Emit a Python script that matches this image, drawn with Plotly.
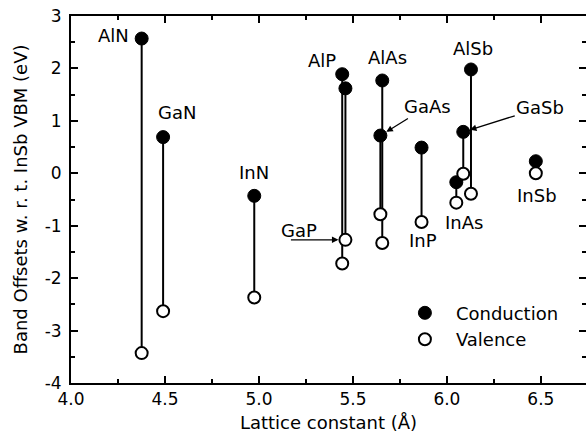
import plotly.graph_objects as go

# Band offsets of III-V semiconductors relative to the InSb valence band maximum
materials = ["AlN", "GaN", "InN", "AlP", "GaP", "AlAs", "GaAs", "InP", "InAs", "GaSb", "AlSb", "InSb"]
lattice = [4.376, 4.49, 4.975, 5.443, 5.46, 5.656, 5.646, 5.865, 6.05, 6.087, 6.128, 6.473]
conduction = [2.57, 0.69, -0.43, 1.89, 1.62, 1.77, 0.72, 0.49, -0.17, 0.79, 1.98, 0.23]
valence = [-3.43, -2.63, -2.37, -1.72, -1.27, -1.33, -0.78, -0.93, -0.56, -0.01, -0.39, 0.0]

x_ticks = [4.0, 4.5, 5.0, 5.5, 6.0, 6.5]
y_ticks = [-4, -3, -2, -1, 0, 1, 2, 3]

FONT = "DejaVu Sans, Liberation Sans, Arial, sans-serif"

# vertical bars joining conduction and valence levels
lx, ly = [], []
for x, c, v in zip(lattice, conduction, valence):
    lx += [x, x, None]
    ly += [c, v, None]

fig = go.Figure()
fig.add_trace(go.Scatter(x=lx, y=ly, mode="lines", line=dict(color="black", width=2),
                         showlegend=False, hoverinfo="skip"))
fig.add_trace(go.Scatter(x=lattice, y=conduction, mode="markers", name="Conduction",
                         marker=dict(symbol="circle", size=13, color="black",
                                     line=dict(color="black", width=1))))
fig.add_trace(go.Scatter(x=lattice, y=valence, mode="markers", name="Valence",
                         marker=dict(symbol="circle", size=12, color="white",
                                     line=dict(color="black", width=2))))

# text labels: (anchor level, dx px, dy px)
label_pos = {
    "AlN": ("c", -28, -3),
    "GaN": ("c", 14, -25),
    "InN": ("c", 0, -23),
    "AlP": ("c", -20, -14),
    "AlAs": ("c", 5, -23),
    "AlSb": ("c", 2, -21),
    "InSb": ("v", 1, 22),
    "InAs": ("v", 8, 20),
    "InP": ("v", 1, 18),
    "GaP": ("v", -46, -9),
}
for name, (lvl, dx, dy) in label_pos.items():
    i = materials.index(name)
    yv = conduction[i] if lvl == "c" else valence[i]
    fig.add_annotation(x=lattice[i], y=yv, text=name, showarrow=False,
                       xshift=dx, yshift=-dy, font=dict(size=18, color="black", family=FONT))

# arrowed labels
arrows = {"GaAs": ("c", 47, -29, "GaAs"), "GaSb": ("c", 77, -24, "GaSb"), "GaP": ("v", -56, 0, "")}
for name, (lvl, ax, ay, txt) in arrows.items():
    i = materials.index(name)
    yv = conduction[i] if lvl == "c" else valence[i]
    fig.add_annotation(x=lattice[i], y=yv, text=txt, showarrow=True, ax=ax, ay=ay,
                       arrowhead=2, arrowsize=1, arrowwidth=1.3, arrowcolor="black",
                       standoff=7, font=dict(size=18, color="black", family=FONT))

axis_common = dict(showline=True, linecolor="black", linewidth=2, mirror="ticks",
                   ticks="inside", ticklen=7, tickwidth=2, tickcolor="black",
                   showgrid=False, zeroline=False, automargin=False,
                   tickfont=dict(size=17, color="black", family=FONT))

fig.update_xaxes(range=[4.0, 6.74], tickvals=x_ticks, ticktext=[f"{v:.1f}" for v in x_ticks],
                 minor=dict(ticks="inside", dtick=0.25, ticklen=4, tickwidth=2, tickcolor="black"),
                 title=dict(text="Lattice constant (Å)", font=dict(size=18, color="black", family=FONT),
                            standoff=8),
                 **axis_common)
fig.update_yaxes(range=[-4, 3], tickvals=y_ticks, ticktext=[str(v) for v in y_ticks],
                 minor=dict(ticks="inside", dtick=0.5, ticklen=4, tickwidth=2, tickcolor="black"),
                 title=dict(text="Band Offsets w. r. t. InSb VBM (eV)",
                            font=dict(size=18, color="black", family=FONT), standoff=12),
                 ticklabelstandoff=4,
                 **axis_common)

fig.update_layout(
    width=586, height=445,
    margin=dict(l=71, r=0, t=16, b=62, autoexpand=False),
    plot_bgcolor="white", paper_bgcolor="white",
    font=dict(family=FONT, color="black"),
    legend=dict(x=0.627, y=0.155, xanchor="left", yanchor="middle", bgcolor="rgba(0,0,0,0)",
                font=dict(size=18, color="black", family=FONT), itemwidth=52,
                tracegroupgap=0),
)

fig.write_html("out.html", config={"displayModeBar": False},
               post_script="document.body.style.margin='0';")
